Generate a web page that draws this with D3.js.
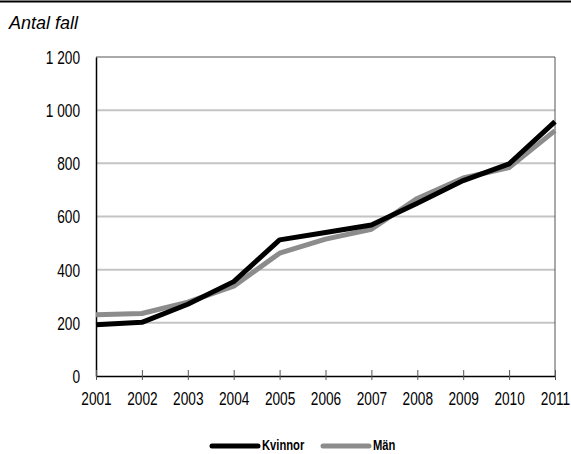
<!DOCTYPE html>
<html><head><meta charset="utf-8">
<script src="https://cdn.jsdelivr.net/npm/d3@7"></script>
<style>
body{margin:0;background:#fff;}
svg{display:block;}
text{font-family:"Liberation Sans",Arial,sans-serif;}
</style></head>
<body>
<script>
const years = [2001,2002,2003,2004,2005,2006,2007,2008,2009,2010,2011];
const kvinnor = [193,202,270,355,512,540,568,650,735,798,957];
const man = [230,235,278,338,462,515,552,668,745,784,923];
const yTicks = [0,200,400,600,800,1000,1200];
const yLabels = ["0","200","400","600","800","1 000","1 200"];
const seriesNames = ["Kvinnor","Män"];

const W=571,H=454;
const SX=0.76;
const svg=d3.select("body").append("svg").attr("width",W).attr("height",H);
const m={l:96,r:16,t:57,b:78};
const x=d3.scaleLinear().domain([2001,2011]).range([m.l,W-m.r]);
const y=d3.scaleLinear().domain([0,1200]).range([H-m.b,m.t]);

svg.append("line").attr("x1",0).attr("x2",W).attr("y1",1.5).attr("y2",1.5).attr("stroke","#000").attr("stroke-width",2);
svg.append("text").attr("x",9).attr("y",29).attr("font-size",18).attr("font-style","italic").text("Antal fall");

// gridlines
svg.append("g").selectAll("line").data(yTicks.filter(d=>d>0&&d<1200)).join("line")
  .attr("x1",m.l).attr("x2",W-m.r).attr("y1",d=>y(d)).attr("y2",d=>y(d))
  .attr("stroke","#c4c4c4").attr("stroke-width",2);
// frame top & right
svg.append("path").attr("d",`M${m.l},${y(1200)}H${x(2011)}V${y(0)}`).attr("fill","none").attr("stroke","#555").attr("stroke-width",1);

// y axis
const ya=svg.append("g").attr("transform",`translate(${m.l},0)`)
  .call(d3.axisLeft(y).tickValues(yTicks).tickFormat((d,i)=>yLabels[i]).tickSize(0));
ya.select(".domain").attr("stroke","#000").attr("stroke-width",1.5);
ya.selectAll("text").attr("font-size",18).attr("fill","#000")
  .attr("x",-16/SX).attr("dy","0.36em").attr("transform",`scale(${SX},1)`);

// x axis
const xa=svg.append("g").attr("transform",`translate(0,${y(0)})`)
  .call(d3.axisBottom(x).tickValues(years).tickFormat(d3.format("d")).tickSize(0));
xa.select(".domain").attr("stroke","#000").attr("stroke-width",1.5);
xa.selectAll("text").attr("font-size",18).attr("fill","#000")
  .attr("y",29).attr("dy",0).attr("transform",`scale(${SX},1)`);
xa.selectAll(".tick").append("line").attr("y1",-6).attr("y2",4).attr("stroke","#555").attr("stroke-width",1);

const line=d3.line().x((d,i)=>x(years[i])).y(d=>y(d));
svg.append("path").datum(man).attr("d",line).attr("fill","none").attr("stroke","#8c8c8c").attr("stroke-width",5).attr("stroke-linejoin","round");
svg.append("path").datum(kvinnor).attr("d",line).attr("fill","none").attr("stroke","#000").attr("stroke-width",5).attr("stroke-linejoin","round");

// legend
const leg=svg.append("g");
const items=[{n:seriesNames[0],c:"#000",x0:212},{n:seriesNames[1],c:"#8c8c8c",x0:323}];
items.forEach(it=>{
  leg.append("line").attr("x1",it.x0).attr("x2",it.x0+46).attr("y1",446).attr("y2",446).attr("stroke",it.c).attr("stroke-width",5).attr("stroke-linecap","round");
  leg.append("text").attr("x",(it.x0+50)/0.8).attr("y",450.5).attr("font-size",14).attr("font-weight","bold").attr("fill","#000")
    .attr("transform","scale(0.8,1)").text(it.n);
});
</script>
</body></html>
